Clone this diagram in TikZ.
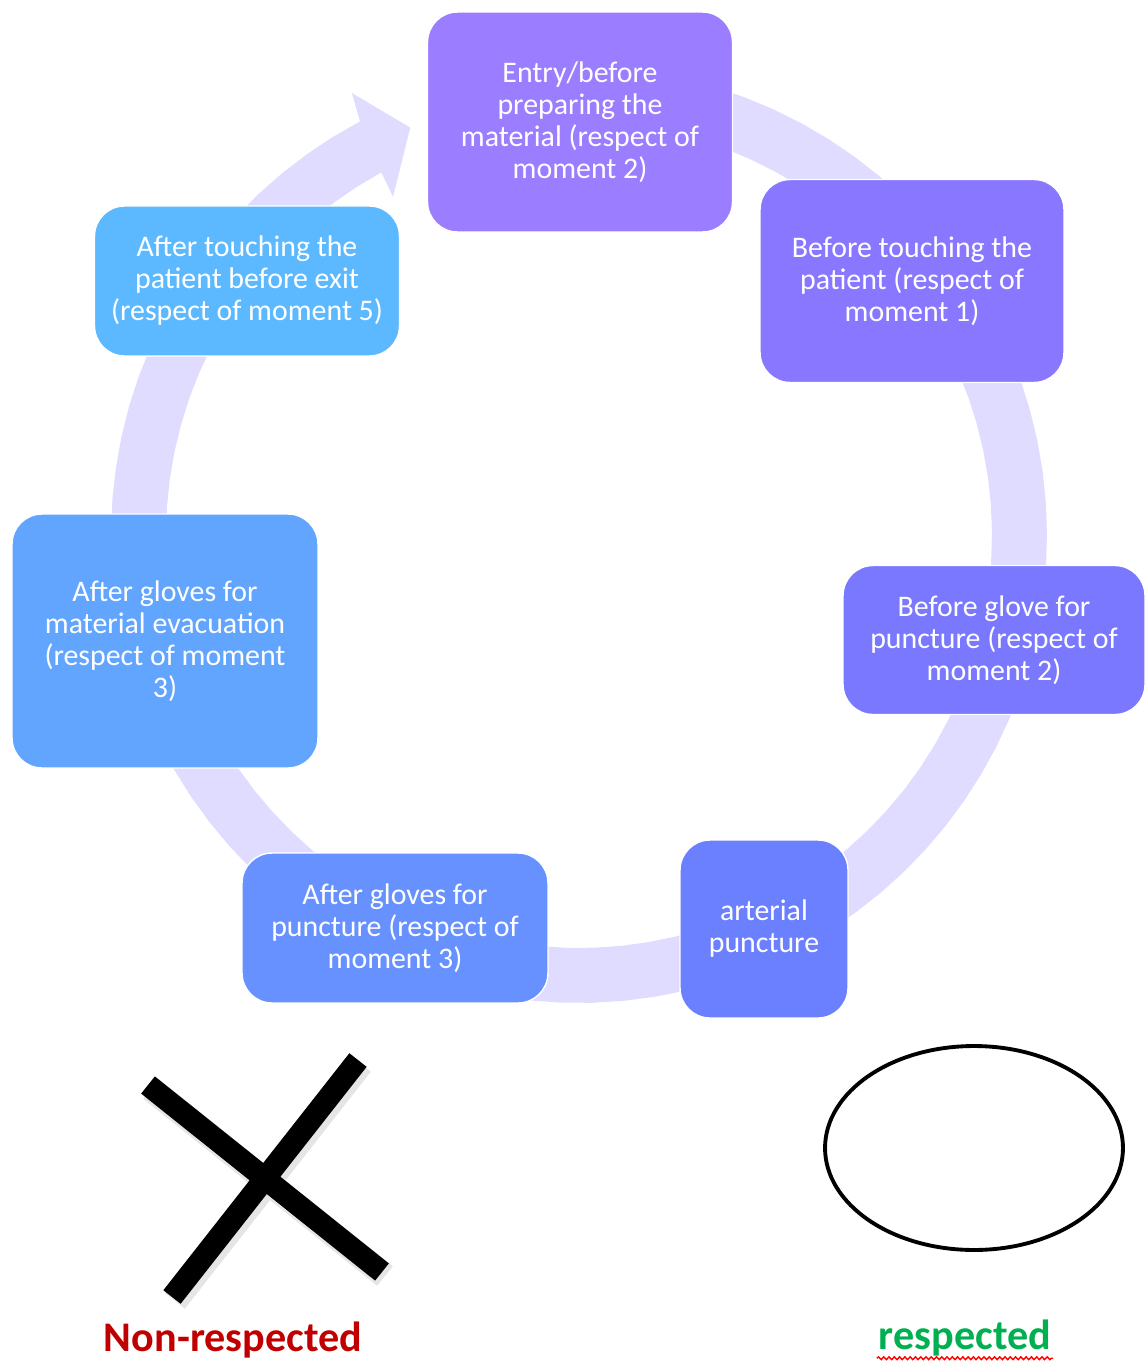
\documentclass[tikz,border=0pt]{standalone}
\usepackage{fontspec}
\setmainfont{Carlito}
\usetikzlibrary{decorations.pathmorphing}
\definecolor{ringc}{HTML}{E0DCFF}
\definecolor{cA}{HTML}{9B7DFF}
\definecolor{cB}{HTML}{8978FF}
\definecolor{cC}{HTML}{7A78FF}
\definecolor{cD}{HTML}{6B80FF}
\definecolor{cE}{HTML}{6691FF}
\definecolor{cF}{HTML}{62A5FF}
\definecolor{cG}{HTML}{5CB9FF}
\definecolor{nonc}{HTML}{C00000}
\definecolor{okc}{HTML}{00B050}

\begin{document}
\begin{tikzpicture}[x=0.02cm,y=0.02cm,
  stepbox/.style={draw=white,line width=0.8pt,rounded corners=0.6cm,text=white,
    align=center,font=\fontsize{17}{18.2}\selectfont}]
\useasboundingbox (0,0) rectangle (1144,-1362);

% ring with its arrow head
\begin{scope}[shift={(579,-535)}]
\fill[ringc] plot[domain=100:-242.1,samples=90] (\x:468) -- (-242.8:497) -- (-247.5:441)
  -- (-241.2:386) -- plot[domain=-241.4:100,samples=90] (\x:413) -- cycle;
\end{scope}

\node[stepbox,fill=cA,minimum width=6.1cm,minimum height=4.4cm] (entry) at (580,-122)
  {Entry/before\\preparing the\\material (respect of\\moment 2)};
\node[stepbox,fill=cB,minimum width=6.08cm,minimum height=4.06cm] (touch) at (912,-281)
  {Before touching the\\patient (respect of\\moment 1)};
\node[stepbox,fill=cC,minimum width=6.04cm,minimum height=2.98cm] (glove) at (994,-640)
  {Before glove for\\puncture (respect of\\moment 2)};
\node[stepbox,fill=cD,minimum width=3.36cm,minimum height=3.56cm] (artery) at (764,-929)
  {arterial\\puncture};
\node[stepbox,fill=cE,minimum width=6.12cm,minimum height=3cm] (after) at (395,-928)
  {After gloves for\\puncture (respect of\\moment 3)};
\node[stepbox,fill=cF,minimum width=6.12cm,minimum height=5.08cm] (evac) at (165,-641)
  {After gloves for\\material evacuation\\(respect of moment\\3)};
\node[stepbox,fill=cG,minimum width=6.1cm,minimum height=3cm] (exit) at (247,-281)
  {After touching the\\patient before exit\\(respect of moment 5)};

% legend
\draw[black!10,line width=0.5cm] (151,-1089) -- (385,-1276) (361,-1064) -- (175,-1301);
\draw[line width=0.44cm] (148,-1085) -- (382,-1272) (358,-1060) -- (172,-1297);
\draw[line width=2.2pt] (974,-1148) ellipse [x radius=2.98cm, y radius=2.04cm];

\node[font=\bfseries\fontsize{24}{28}\selectfont,text=nonc] (nonresp) at (233,-1340) {Non-respected};
\node[font=\bfseries\fontsize{24}{28}\selectfont,text=okc,inner sep=1pt] (resp) at (965,-1338) {respected};
\draw[red,line width=0.8pt,decorate,decoration={snake,amplitude=0.8pt,segment length=3pt}]
  (resp.south west) -- (resp.south east);
\end{tikzpicture}
\end{document}
